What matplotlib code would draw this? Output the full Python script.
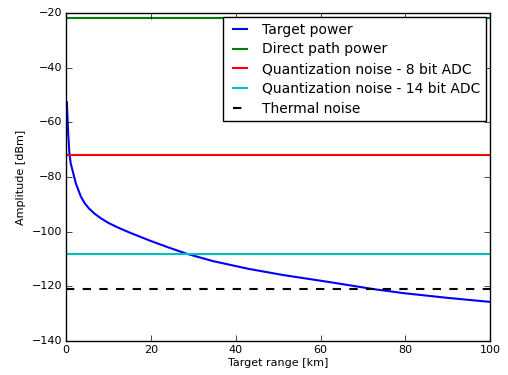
import matplotlib
matplotlib.use("Agg")
import matplotlib.pyplot as plt

# target power curve
range_km = [0.2, 0.5, 0.8, 1.1, 1.5, 2.3, 3.5, 4.4, 5.4, 6.7, 8.2, 10.0, 12.1,
            15.1, 19.8, 24.0, 28.5, 34.7, 43.0, 51.3, 61.5, 72.4, 79.6, 89.8, 100.0]
target_power = [-52.6, -64.0, -71.5, -75.0, -77.4, -82.3, -87.2, -89.6, -91.5,
                -93.4, -95.1, -96.8, -98.4, -100.4, -103.3, -105.7, -108.1,
                -110.8, -113.6, -115.9, -118.3, -121.0, -122.5, -124.2, -125.7]

x_span = [0, 100]
direct_path = -22
quant_8bit = -72
quant_14bit = -108
thermal = -121

plt.style.use('classic')
plt.rcParams['font.family'] = ['DejaVu Sans']

fig = plt.figure(figsize=(5.08, 3.75), dpi=100, facecolor='white')
ax = fig.add_axes([0.13, 0.0907, 0.835, 0.8746])

ax.plot(range_km, target_power, 'b', lw=1.5, label='Target power')
ax.plot(x_span, [direct_path] * 2, 'g', lw=1.5, label='Direct path power')
ax.plot(x_span, [quant_8bit] * 2, 'r', lw=1.5, label='Quantization noise - 8 bit ADC')
ax.plot(x_span, [quant_14bit] * 2, 'c', lw=1.5, label='Quantization noise - 14 bit ADC')
ax.plot(x_span, [thermal] * 2, 'k--', lw=1.5, label='Thermal noise')

ax.set_xlim(0, 100)
ax.set_ylim(-140, -20)
ax.set_xlabel('Target range [km]', fontsize=8, labelpad=2)
ax.set_ylabel('Amplitude [dBm]', fontsize=8, labelpad=4)
ax.tick_params(labelsize=8, pad=3)

leg = ax.legend(loc='upper right', fontsize=10, handlelength=1.6,
                borderaxespad=0.3, labelspacing=0.41, fancybox=False)

fig.savefig('out.png', dpi=100, facecolor='white')
